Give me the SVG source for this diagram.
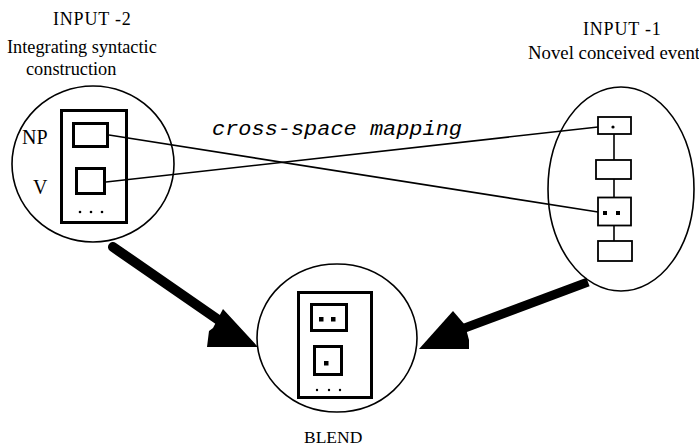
<svg xmlns="http://www.w3.org/2000/svg" width="699" height="448" viewBox="0 0 699 448">
<style>
.t{font-family:"Liberation Serif","Times New Roman",serif;fill:#000}
.thin{fill:none;stroke:#000;stroke-width:1.6}
.thick{fill:none;stroke:#000;stroke-width:3}
.mid{fill:#fff;stroke:#000;stroke-width:1.8}
.mono{font-family:"Liberation Mono","Courier New",monospace;font-style:italic;fill:#000}
</style>
<rect width="699" height="448" fill="#fff"/>
<g id="connectors">
<line x1="109" y1="135" x2="598" y2="212" class="thin"/>
<line x1="106" y1="182" x2="598" y2="127" class="thin"/>
<line x1="113" y1="247" x2="220" y2="321" stroke="#000" stroke-width="10" stroke-linecap="round"/>
<polygon points="207,347 209,331 213,328 223,309 258,347" fill="#000"/>
<line x1="588" y1="282" x2="462" y2="329" stroke="#000" stroke-width="9"/>
<polygon points="419,349 453,311 465,325 469,340 469,349" fill="#000"/>
<text class="mono" x="212" y="135" font-size="20" textLength="250" lengthAdjust="spacingAndGlyphs">cross-space mapping</text>
</g>
<g id="input2">
<text class="t" x="53" y="25" font-size="18" letter-spacing="0.8">INPUT -2</text>
<text class="t" x="7" y="53" font-size="18.3">Integrating syntactic</text>
<text class="t" x="26" y="75" font-size="18.3">construction</text>
<ellipse cx="93" cy="164" rx="81" ry="78" class="thin"/>
<rect x="61.5" y="110.5" width="65" height="112" class="thick"/>
<rect x="73.5" y="123.5" width="34" height="23" class="thick"/>
<rect x="76.5" y="168.5" width="28" height="25" class="thick"/>
<text class="t" x="22" y="144" font-size="20">NP</text>
<text class="t" x="33" y="194" font-size="20">V</text>
<circle cx="80" cy="212" r="1.3"/>
<circle cx="91" cy="212" r="1.3"/>
<circle cx="102" cy="212" r="1.3"/>
</g>
<g id="input1">
<text class="t" x="583" y="35" font-size="18" letter-spacing="0.8">INPUT -1</text>
<text class="t" x="528" y="59" font-size="18.8">Novel conceived event</text>
<ellipse cx="621" cy="189" rx="73" ry="102" class="thin"/>
<line x1="614" y1="134" x2="614" y2="241" class="thin"/>
<rect x="598" y="117" width="33" height="17" class="mid"/>
<rect x="596" y="160" width="35" height="19" class="mid"/>
<rect x="598" y="197.5" width="33" height="28" class="mid"/>
<rect x="598" y="241" width="34" height="20" class="mid"/>
<circle cx="613" cy="127" r="1.6"/>
<rect x="603" y="211" width="4" height="4"/>
<rect x="616" y="211" width="4" height="4"/>
</g>
<g id="blend">
<ellipse cx="337" cy="338" rx="80" ry="74" class="thin"/>
<rect x="298.5" y="292.5" width="73" height="105" class="thick"/>
<rect x="311.5" y="304.5" width="35" height="26" class="thick"/>
<rect x="314.5" y="346.5" width="27" height="28" class="thick"/>
<rect x="319" y="317" width="4.5" height="4.5"/>
<rect x="331" y="317" width="4.5" height="4.5"/>
<rect x="324" y="361" width="4.5" height="4.5"/>
<circle cx="317" cy="390" r="1.2"/>
<circle cx="329" cy="390" r="1.2"/>
<circle cx="340" cy="390" r="1.2"/>
<text class="t" x="304" y="443" font-size="17.5">BLEND</text>
</g>
</svg>
